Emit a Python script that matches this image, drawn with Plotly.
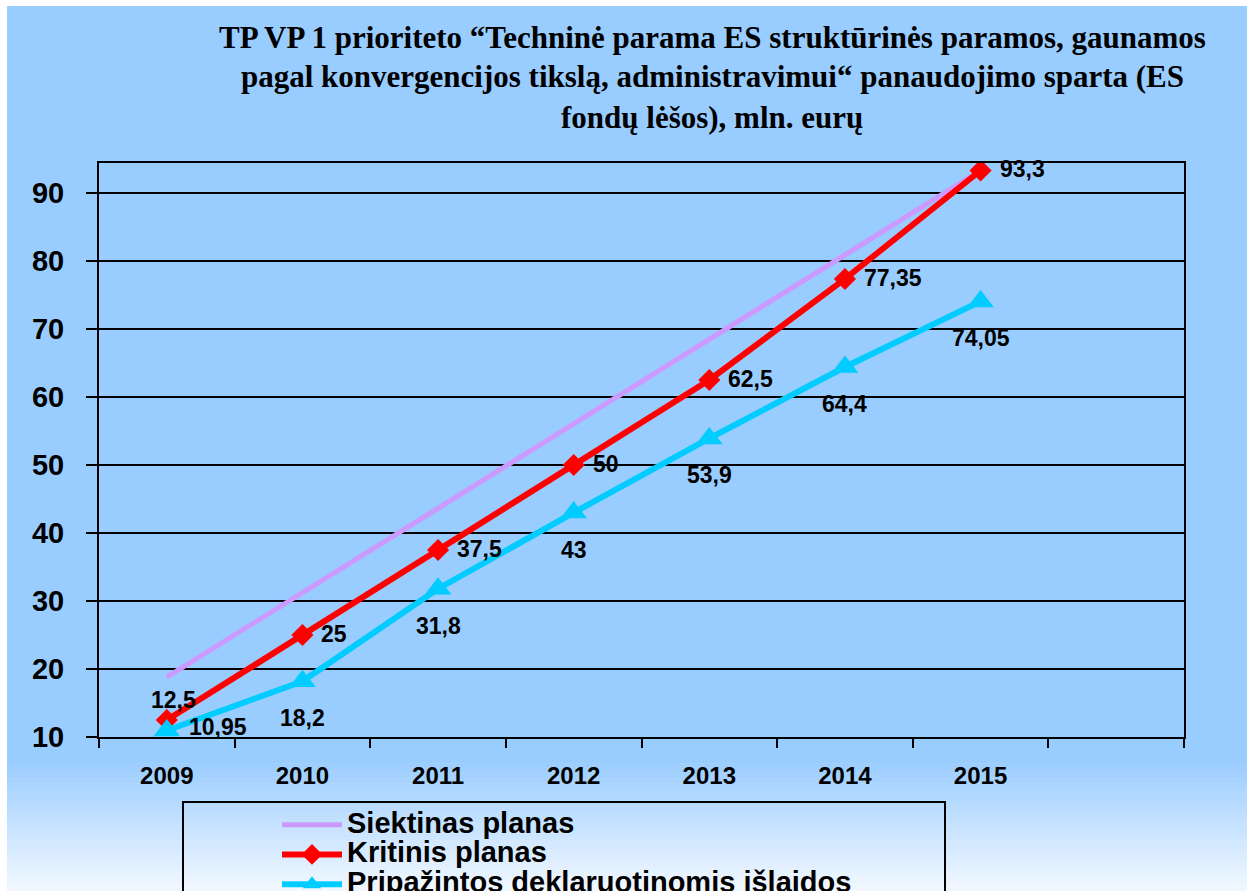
import plotly.graph_objects as go

years = [2009, 2010, 2011, 2012, 2013, 2014, 2015]
year_labels = ["2009", "2010", "2011", "2012", "2013", "2014", "2015"]
siektinas = [18.8, 31.2, 43.6, 56.0, 68.4, 80.9, 93.3]
kritinis = [12.5, 25, 37.5, 50, 62.5, 77.35, 93.3]
pripazintos = [10.95, 18.2, 31.8, 43, 53.9, 64.4, 74.05]
series_names = ["Siektinas planas", "Kritinis planas", "Pripažintos deklaruotinomis išlaidos"]
y_ticks = [10, 20, 30, 40, 50, 60, 70, 80, 90]
title_lines = [
    "TP VP 1 prioriteto “Techninė parama ES struktūrinės paramos, gaunamos",
    "pagal konvergencijos tikslą, administravimui“ panaudojimo sparta (ES",
    "fondų lėšos), mln. eurų",
]

W, H = 1247, 891
L, R, T, B = 99, 1184, 163, 737  # plot area in pixels


def px2x(px):
    return (px - L) / (R - L)


def py2y(py):
    return (B - py) / (B - T)


BLUE = "#99CCFF"
SANS = "Liberation Sans, Arial"
fmt = lambda v: f"{v:g}".replace(".", ",")
lab_font = dict(family=SANS, size=23, color="black")


def legname(s):
    return f'<span style="font-size:29px;font-weight:bold">{s}</span>'


fig = go.Figure()
fig.add_trace(go.Scatter(x=years, y=siektinas, mode="lines", name=legname(series_names[0]),
                         line=dict(color="#CC99FF", width=5)))
fig.add_trace(go.Scatter(x=years, y=kritinis, mode="lines+markers", name=legname(series_names[1]),
                         line=dict(color="#FF0000", width=6),
                         marker=dict(symbol="diamond", size=17, color="#FF0000")))
fig.add_trace(go.Scatter(x=years, y=pripazintos, mode="lines+markers", name=legname(series_names[2]),
                         line=dict(color="#00CCFF", width=6),
                         marker=dict(symbol="triangle-up", size=23, color="#00CCFF")))

annotations = []
for i, (x, v) in enumerate(zip(years, kritinis)):
    if i == 0:
        annotations.append(dict(x=x, y=v, text=f"<b>{fmt(v)}</b>", showarrow=False, font=lab_font,
                                xanchor="center", yanchor="middle", xshift=7, yshift=20))
    else:
        annotations.append(dict(x=x, y=v, text=f"<b>{fmt(v)}</b>", showarrow=False, font=lab_font,
                                xanchor="left", yanchor="middle", xshift=17, yshift=1))
for i, (x, v) in enumerate(zip(years, pripazintos)):
    if i == 0:
        annotations.append(dict(x=x, y=v, text=f"<b>{fmt(v)}</b>", showarrow=False, font=lab_font,
                                xanchor="left", yanchor="middle", xshift=20, yshift=4))
    else:
        annotations.append(dict(x=x, y=v, text=f"<b>{fmt(v)}</b>", showarrow=False, font=lab_font,
                                xanchor="center", yanchor="middle", yshift=-37))

for py, line in zip([37, 77, 117], title_lines):
    annotations.append(dict(xref="paper", yref="paper", x=px2x(712), y=py2y(py), text=f"<b>{line}</b>",
                            showarrow=False, xanchor="center", yanchor="middle",
                            font=dict(family="Liberation Serif, Times New Roman", size=31, color="black")))

shapes = []
# blue background (leaving a thin white strip on top/left)
shapes.append(dict(type="rect", xref="paper", yref="paper", layer="below",
                   x0=px2x(7), x1=px2x(W + 5), y0=py2y(760), y1=py2y(6),
                   fillcolor=BLUE, line=dict(width=0)))
# gradient at bottom
n = 40
g0, g1 = 760, H + 2
c0, c1 = (153, 204, 255), (244, 249, 255)
for k in range(n):
    a = g0 + (g1 - g0) * k / n
    b = g0 + (g1 - g0) * (k + 1) / n
    t = (k + 0.5) / n
    col = tuple(int(round(c0[j] + (c1[j] - c0[j]) * t)) for j in range(3))
    shapes.append(dict(type="rect", xref="paper", yref="paper", layer="below",
                       x0=px2x(7), x1=px2x(W + 5), y0=py2y(b + 0.5), y1=py2y(a),
                       fillcolor=f"rgb{col}", line=dict(width=0)))
# legend frame
shapes.append(dict(type="rect", xref="paper", yref="paper",
                   x0=px2x(183), x1=px2x(945), y0=py2y(905), y1=py2y(802),
                   line=dict(color="black", width=2), fillcolor="rgba(0,0,0,0)"))

fig.update_layout(
    width=W, height=H,
    margin=dict(l=L, r=W - R, t=T, b=H - B, autoexpand=False),
    paper_bgcolor="white",
    plot_bgcolor=BLUE,
    showlegend=True,
    legend=dict(x=px2x(277), y=py2y(805), xanchor="left", yanchor="top",
                bgcolor="rgba(0,0,0,0)", borderwidth=0, itemwidth=60,
                font=dict(family=SANS, size=20.5, color="black"),
                tracegroupgap=0),
    annotations=annotations,
    shapes=shapes,
    xaxis=dict(range=[2008.5, 2016.5], tickvals=years, ticktext=[f"<b>{t}</b>" for t in year_labels],
               ticks="", showgrid=False, zeroline=False,
               showline=True, linecolor="black", linewidth=2, mirror=True,
               tickfont=dict(family=SANS, size=24, color="black"),
               ticklabelstandoff=16,
               minor=dict(tick0=2008.5, dtick=1, ticks="outside", ticklen=9, tickcolor="black",
                          tickwidth=2, showgrid=False)),
    yaxis=dict(range=[10, 94.4], tickvals=y_ticks,
               ticktext=[f"<b>{v}</b>" for v in y_ticks],
               ticks="outside", ticklen=11, tickwidth=2, tickcolor="black",
               showgrid=True, gridcolor="black", gridwidth=2, zeroline=False,
               showline=True, linecolor="black", linewidth=2, mirror=True,
               tickfont=dict(family=SANS, size=29, color="black"),
               ticklabelstandoff=16),
)

fig.write_html("out.html", config={"displayModeBar": False},
               post_script="document.body.style.margin='0';document.body.style.overflow='hidden';")
